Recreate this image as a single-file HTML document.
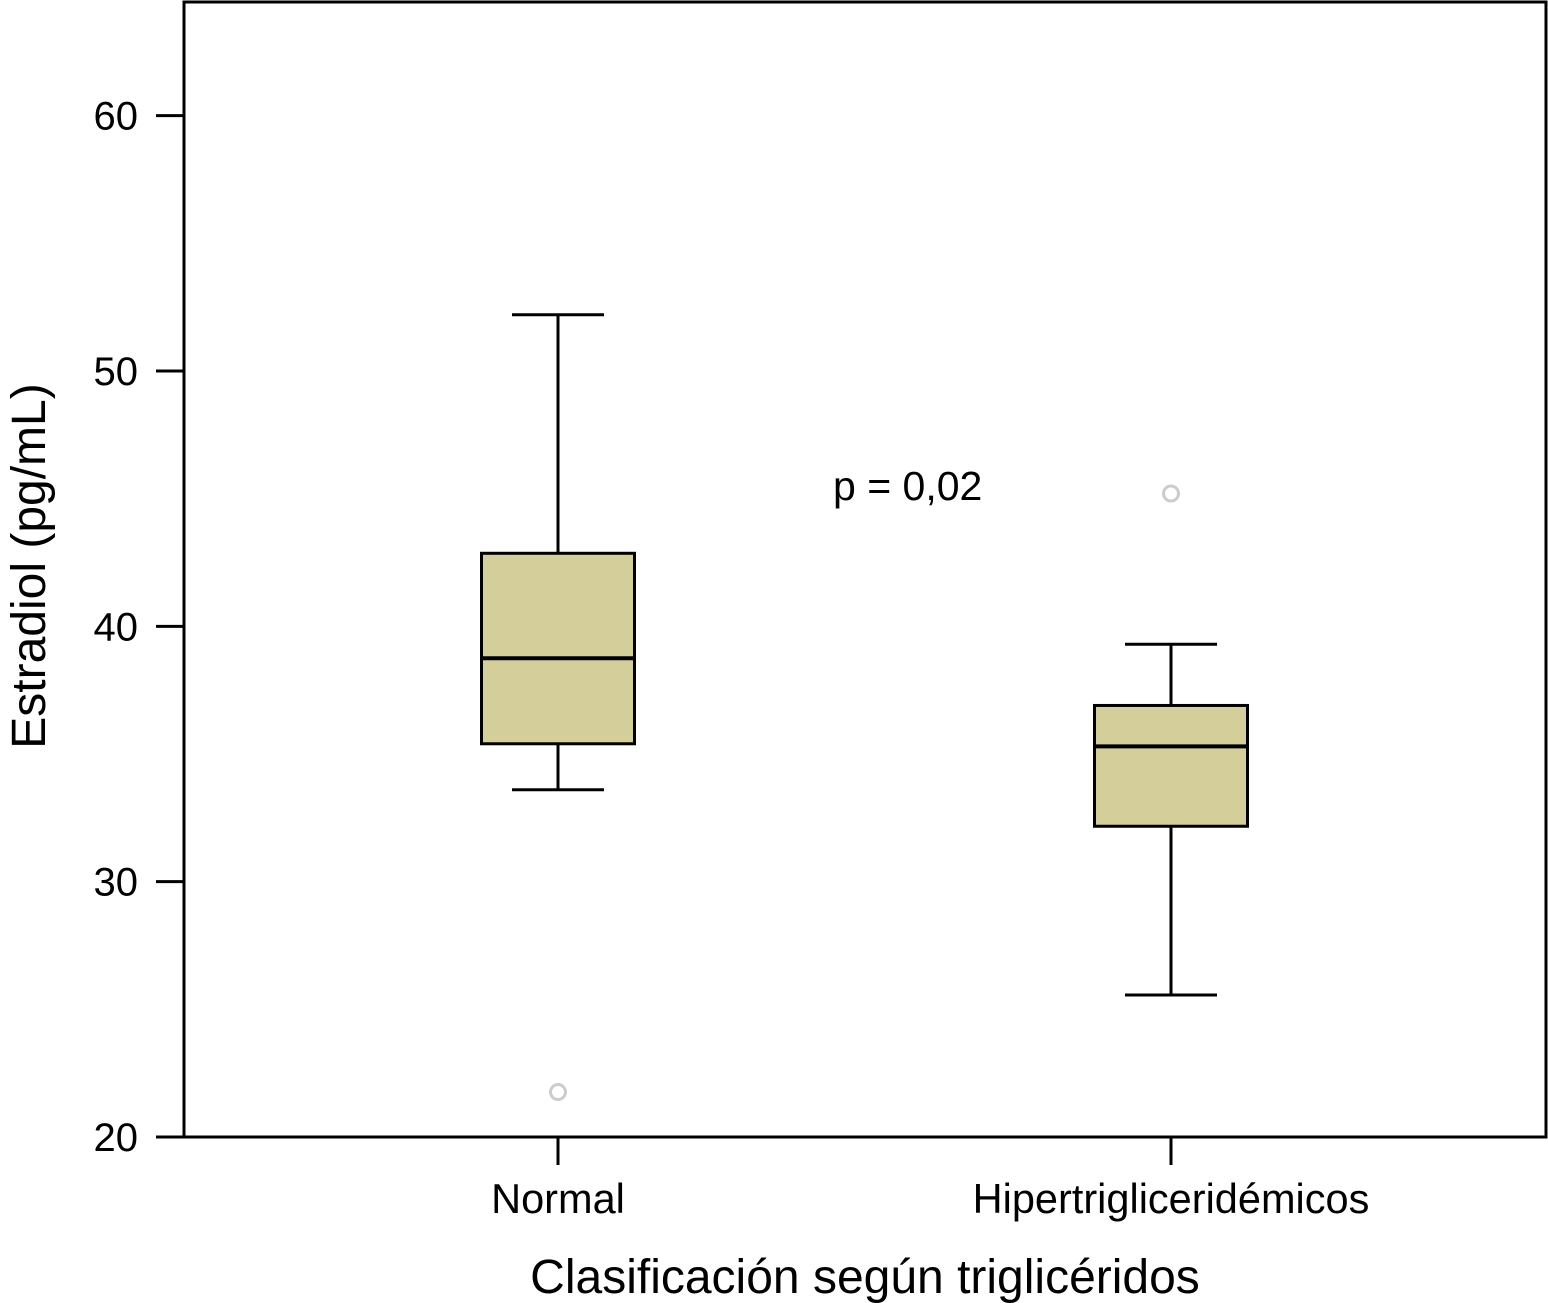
<!DOCTYPE html>
<html><head><meta charset="utf-8"><style>
html,body{margin:0;padding:0;background:#fff;}
svg{display:block;font-family:"Liberation Sans",Arial,sans-serif;}
</style></head><body>
<svg id="chart" width="1548" height="1303" viewBox="0 0 1548 1303"></svg>
<script>
const categories = ["Normal", "Hipertrigliceridémicos"];
const whiskerHigh = [52.2, 39.3];
const q3Values = [42.86, 36.9];
const medians = [38.75, 35.3];
const q1Values = [35.4, 32.17];
const whiskerLow = [33.6, 25.56];
const outliers = [[21.76], [45.2]];
const yTicks = [20, 30, 40, 50, 60];

const NS = "http://www.w3.org/2000/svg";
const svg = document.getElementById("chart");
const L = 184, R = 1546, T = 2, B = 1137;
const yMin = 20, yMax = 64.45;
function y(v){ return B - (v - yMin) / (yMax - yMin) * (B - T); }
const xCenters = [558, 1171];
function x(i){ return xCenters[i]; }
const boxW = 153, capW = 92;

function mk(tag, attrs, parent){
  const e = document.createElementNS(NS, tag);
  for (const k in attrs) e.setAttribute(k, attrs[k]);
  (parent || svg).appendChild(e);
  return e;
}

const frame = mk("rect", {x:L, y:T, width:R-L, height:B-T, fill:"none", stroke:"#000", "stroke-width":3});



yTicks.forEach(v => {
  const tl = mk("line", {x1:L-28, x2:L, y1:y(v), y2:y(v), stroke:"#000", "stroke-width":3});
  
  
  const t = mk("text", {x:L-46, y:y(v)+14, "text-anchor":"end", "font-size":40});
  t.textContent = v;
  
  
});

categories.forEach((c, i) => {
  const cx = x(i);
  const g = mk("g", {});
  
  
  mk("line", {x1:cx, x2:cx, y1:B, y2:B+28, stroke:"#000", "stroke-width":3}, g);
  mk("line", {x1:cx, x2:cx, y1:y(whiskerHigh[i]), y2:y(q3Values[i]), stroke:"#000", "stroke-width":3}, g);
  mk("line", {x1:cx, x2:cx, y1:y(q1Values[i]), y2:y(whiskerLow[i]), stroke:"#000", "stroke-width":3}, g);
  mk("line", {x1:cx-capW/2, x2:cx+capW/2, y1:y(whiskerHigh[i]), y2:y(whiskerHigh[i]), stroke:"#000", "stroke-width":3}, g);
  mk("line", {x1:cx-capW/2, x2:cx+capW/2, y1:y(whiskerLow[i]), y2:y(whiskerLow[i]), stroke:"#000", "stroke-width":3}, g);
  mk("rect", {x:cx-boxW/2, y:y(q3Values[i]), width:boxW, height:y(q1Values[i])-y(q3Values[i]), fill:"#d4cf9a", stroke:"#000", "stroke-width":3}, g);
  mk("line", {x1:cx-boxW/2, x2:cx+boxW/2, y1:y(medians[i]), y2:y(medians[i]), stroke:"#000", "stroke-width":4}, g);
  outliers[i].forEach(v => {
    const o = mk("circle", {cx:cx, cy:y(v), r:7.5, fill:"none", stroke:"#ccc", "stroke-width":3});
    
    
  });
  const t = mk("text", {x:cx, y:1213, "text-anchor":"middle", "font-size":41.5});
  t.textContent = c;
  
  
});

const p = mk("text", {x:833, y:500, "font-size":41});
p.textContent = "p = 0,02";



const xt = mk("text", {x:865, y:1293, "text-anchor":"middle", "font-size":48});
xt.textContent = "Clasificación según triglicéridos";



const yt = mk("text", {x:0, y:0, "text-anchor":"middle", "font-size":48, transform:"translate(45,566) rotate(-90)"});
yt.textContent = "Estradiol (pg/mL)";


</script>
</body></html>
